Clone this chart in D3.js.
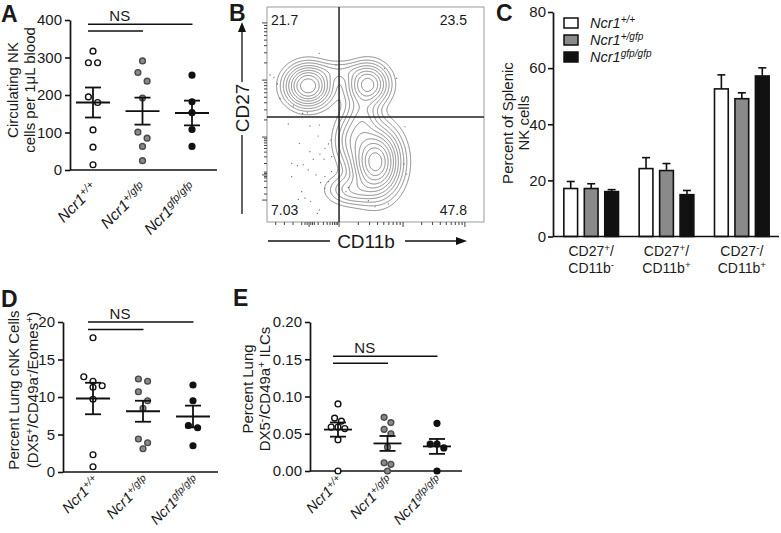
<!DOCTYPE html>
<html><head><meta charset="utf-8">
<script src="https://cdn.jsdelivr.net/npm/d3@7"></script>
<style>
body{margin:0;background:#fff;}
svg text{font-family:"Liberation Sans",Arial,Helvetica,sans-serif;fill:#1a1a1a;}
</style></head><body>
<svg id="c" width="781" height="533"></svg>
<script>
// ---------------- DATA ----------------
const genotypes = ["+/+", "+/gfp", "gfp/gfp"];
const genoFill = ["#ffffff", "#8a8a8a", "#111111"];
const genoStroke = ["#111111", "#4a4a4a", "#111111"];

// Panel A: circulating NK cells per 1 uL blood
const aValues = [
  [317, 286, 286, 195, 180, 107, 61, 14],
  [291, 260, 237, 192, 101, 85, 63, 25],
  [253, 182, 153, 108, 63]
];
const aMeans = [180, 157, 152];
const aSems = [40, 36, 33];
const aTicks = [0, 100, 200, 300, 400];
const aNS = [389, 371];

// Panel B: flow plot (channel units 0-1000)
const bQuadX = 332, bQuadY = 488;
const bQuadLabels = ["21.7", "23.5", "7.03", "47.8"];
const bPopX  = [189, 465, 500, 392, 336, 440, 385];
const bPopY  = [633, 640, 279, 150, 700, 470, 380];
const bPopSX = [54, 50, 58, 62, 75, 44, 42];
const bPopSY = [50, 50, 80, 38, 28, 80, 62];
const bPopW  = [1.0, 0.72, 1.35, 0.22, 0.10, 0.28, 0.22];
const bLevels = [0.02, 0.045, 0.08, 0.13, 0.19, 0.27, 0.36, 0.47, 0.6, 0.74, 0.88];
const bDotsX = [241,318,14,32,60,121,164,186,98,241,149,236,283,267,294,198,244,114,140,167,213,263,190,226,267,283,247,298,267,144,175,201,241,232,364,375,467,498,559,636,631,644,598,541,48,336,114,160,298,198];
const bDotsY = [785,730,684,673,575,540,505,508,456,451,366,400,363,343,381,327,316,273,262,266,292,292,242,219,211,188,183,234,157,105,111,95,56,40,141,161,99,71,84,443,270,223,668,715,642,567,211,141,304,447];
const bYMajor = [102, 219, 395, 660, 926];
const bXMajor = [194, 332, 627, 912];

// Panel C: percent of splenic NK cells
const cCats = ["CD27+/CD11b-", "CD27+/CD11b+", "CD27-/CD11b+"];
const cSigns = [["+", "-"], ["+", "+"], ["-", "+"]];
const cMeans = [[17.1, 17.1, 16.0], [24.2, 23.5, 14.9], [52.6, 49.1, 57.2]];
const cErrs = [[2.5, 1.7, 0.7], [3.9, 2.5, 1.5], [5.0, 2.1, 2.9]];
const cTicks = [0, 20, 40, 60, 80];

// Panel D: percent lung cNK cells
const dValues = [
  [17.9, 12.7, 12.1, 11.5, 11.3, 9.7, 2.3, 0.7],
  [12.4, 12.1, 10.7, 9.5, 8.5, 4.4, 3.9, 3.1],
  [11.6, 9.5, 6.2, 5.9, 3.5]
];
const dMeans = [9.8, 8.1, 7.4];
const dSems = [2.1, 1.4, 1.45];
const dTicks = [0, 5, 10, 15, 20];
const dNS = [20.0, 19.0];

// Panel E: percent lung DX5-/CD49a+ ILCs
const eValues = [
  [0.090, 0.071, 0.067, 0.059, 0.057, 0.059, 0.042, 0.0],
  [0.072, 0.065, 0.056, 0.050, 0.032, 0.011, 0.009, 0.0],
  [0.064, 0.036, 0.031, 0.036, 0.0]
];
const eMeans = [0.0556, 0.037, 0.033];
const eSems = [0.0095, 0.010, 0.010];
const eTicks = [0, 0.05, 0.10, 0.15, 0.20];
const eNS = [0.154, 0.1445];

// ---------------- HELPERS ----------------
const svg = d3.select("#c");

function richText(sel, parts, size) {
  let cur = 0;
  parts.forEach(([t, k]) => {
    const ts = sel.append("tspan").text(t);
    const target = k === "sup" ? -0.33 * size : 0;
    if (target !== cur) ts.attr("dy", target - cur);
    cur = target;
    if (k === "sup") ts.attr("font-size", size * 0.7);
  });
}

function letter(t, x, y) {
  svg.append("text").attr("x", x).attr("y", y).attr("font-size", 23)
    .attr("font-weight", "bold").text(t);
}

function rotLabel(lines, xs, cy, size) {
  lines.forEach((parts, i) => {
    const t = svg.append("text")
      .attr("transform", `translate(${xs[i]},${cy}) rotate(-90)`)
      .attr("text-anchor", "middle").attr("dy", "0.36em")
      .attr("font-size", size);
    richText(t, parts, size);
  });
}

function swarmOffsets(vals, y, d) {
  const idx = vals.map((v, i) => i).sort((a, b) => vals[b] - vals[a]);
  const off = new Array(vals.length).fill(0);
  let row = [];
  let start = null;
  const flush = () => {
    row.forEach((k, j) => { off[k] = (j - (row.length - 1) / 2) * d; });
  };
  idx.forEach(k => {
    const py = y(vals[k]);
    if (start === null || Math.abs(py - start) < d * 0.98) {
      if (start === null) start = py;
      row.push(k);
    } else {
      flush(); row = [k]; start = py;
    }
  });
  flush();
  return off;
}

function dotPanel(cfg) {
  const g = svg.append("g");
  const y = d3.scaleLinear().domain(cfg.domain).range([cfg.yBot, cfg.yTop]);
  const x = d3.scalePoint().domain(genotypes).range(cfg.xRange);
  const axis = d3.axisLeft(y).tickValues(cfg.ticks).tickSize(5).tickSizeOuter(0)
    .tickPadding(3).tickFormat(cfg.fmt);
  const ga = g.append("g").attr("transform", `translate(${cfg.axisX},0)`).call(axis);
  ga.select(".domain").attr("stroke", "#111").attr("stroke-width", 1.7);
  ga.selectAll(".tick line").attr("stroke", "#111").attr("stroke-width", 1.6);
  ga.selectAll(".tick text").attr("font-size", 15).attr("font-family", "Liberation Sans, Arial, sans-serif").attr("fill", "#1a1a1a");
  g.append("line").attr("x1", cfg.axisX).attr("x2", cfg.xEnd)
    .attr("y1", y(cfg.domain[0])).attr("y2", y(cfg.domain[0]))
    .attr("stroke", "#111").attr("stroke-width", 1.7);

  // significance bars
  const nsLines = [[genotypes[0], genotypes[2], cfg.ns[0]], [genotypes[0], genotypes[1], cfg.ns[1]]];
  nsLines.forEach(([a, b, v]) => {
    g.append("line").attr("x1", x(a) - 5).attr("x2", x(b) + 0.5)
      .attr("y1", y(v)).attr("y2", y(v)).attr("stroke", "#111").attr("stroke-width", 1.5);
  });
  g.append("text").attr("x", (x(genotypes[0]) + x(genotypes[1])) / 2 + 2)
    .attr("y", y(cfg.ns[0]) - 3).attr("text-anchor", "middle")
    .attr("font-size", 15).text("NS");

  cfg.values.forEach((vals, gi) => {
    const cx = x(genotypes[gi]);
    const off = swarmOffsets(vals, y, cfg.spacing);
    g.append("g").selectAll("circle").data(vals).join("circle")
      .attr("cx", (d, i) => cx + off[i]).attr("cy", d => y(d)).attr("r", 2.9)
      .attr("fill", genoFill[gi]).attr("stroke", genoStroke[gi]).attr("stroke-width", 1.4);
    const m = cfg.means[gi], s = cfg.sems[gi];
    g.append("line").attr("x1", cx - cfg.meanHalf).attr("x2", cx + cfg.meanHalf)
      .attr("y1", y(m)).attr("y2", y(m)).attr("stroke", "#111").attr("stroke-width", 1.8);
    g.append("line").attr("x1", cx).attr("x2", cx)
      .attr("y1", y(m - s)).attr("y2", y(m + s)).attr("stroke", "#111").attr("stroke-width", 1.8);
    [m - s, m + s].forEach(v => g.append("line").attr("x1", cx - 8).attr("x2", cx + 8)
      .attr("y1", y(v)).attr("y2", y(v)).attr("stroke", "#111").attr("stroke-width", 1.8));
    const t = g.append("text")
      .attr("transform", `translate(${cx + cfg.lab[0]},${cfg.yBot + cfg.lab[1]}) rotate(-45)`)
      .attr("text-anchor", "end").attr("font-size", cfg.labSize).attr("font-style", "italic");
    richText(t, [["Ncr1", null], [genotypes[gi], "sup"]], cfg.labSize);
  });
}

// ---------------- PANEL A ----------------
letter("A", 1, 22);
dotPanel({ axisX: 70, xEnd: 217, yBot: 170, yTop: 20, domain: [0, 400], ticks: aTicks,
  fmt: d3.format("d"), xRange: [93, 192], values: aValues, means: aMeans, sems: aSems,
  ns: aNS, spacing: 9.2, meanHalf: 17, lab: [5, 19], labSize: 15.5 });
rotLabel([[["Circulating NK", null]], [["cells per 1\u03bcL blood", null]]], [13, 30], 90, 15);

// ---------------- PANEL B ----------------
letter("B", 229, 21);
(function () {
  const bx0 = 267, bx1 = 484, by0 = 7, by1 = 222;
  const xB = d3.scaleLinear().domain([0, 1000]).range([bx0, bx1]);
  const yB = d3.scaleLinear().domain([0, 1000]).range([by1, by0]);
  const W = bx1 - bx0, H = by1 - by0;
  const grid = new Float64Array(W * H);
  for (let j = 0; j < H; j++) {
    for (let i = 0; i < W; i++) {
      const dx = xB.invert(bx0 + i + 0.5), dy = yB.invert(by0 + j + 0.5);
      let s = 0;
      for (let k = 0; k < bPopX.length; k++) {
        const u = (dx - bPopX[k]) / bPopSX[k], v = (dy - bPopY[k]) / bPopSY[k];
        s += bPopW[k] * Math.exp(-0.5 * (u * u + v * v));
      }
      grid[j * W + i] = s;
    }
  }
  const mx = d3.max(grid);
  const contours = d3.contours().size([W, H]).thresholds(bLevels.map(l => l * mx))(grid);
  svg.append("g").attr("transform", `translate(${bx0},${by0})`)
    .selectAll("path").data(contours).join("path")
    .attr("d", d3.geoPath()).attr("fill", "none").attr("stroke", "#6a6a6a").attr("stroke-width", 0.8);
  svg.append("g").selectAll("circle").data(bDotsX).join("circle")
    .attr("cx", d => xB(d)).attr("cy", (d, i) => yB(bDotsY[i])).attr("r", 0.6).attr("fill", "#555");
  svg.append("rect").attr("x", bx0).attr("y", by0).attr("width", W).attr("height", H)
    .attr("fill", "none").attr("stroke", "#9a9a9a").attr("stroke-width", 1);
  svg.append("line").attr("x1", xB(bQuadX)).attr("x2", xB(bQuadX)).attr("y1", by0).attr("y2", by1)
    .attr("stroke", "#222").attr("stroke-width", 1.5);
  svg.append("line").attr("x1", bx0).attr("x2", bx1).attr("y1", yB(bQuadY)).attr("y2", yB(bQuadY))
    .attr("stroke", "#222").attr("stroke-width", 1.5);
  // quadrant labels
  const qp = [[bx0 + 4, by0 + 18, "start"], [bx1 - 17, by0 + 18, "end"], [bx0 + 4, by1 - 7, "start"], [bx1 - 17, by1 - 7, "end"]];
  bQuadLabels.forEach((t, i) => svg.append("text").attr("x", qp[i][0]).attr("y", qp[i][1])
    .attr("text-anchor", qp[i][2]).attr("font-size", 14).attr("fill", "#333").text(t));
  // ticks (biexponential style)
  const tk = svg.append("g").attr("stroke", "#444").attr("stroke-width", 1);
  const minorsBetween = (a, b) => d3.range(2, 10).map(k => a + Math.log10(k) * (b - a));
  const yMinor = [];
  for (let i = 1; i < bYMajor.length - 1; i++) yMinor.push(...minorsBetween(bYMajor[i], bYMajor[i + 1]));
  yMinor.push(...minorsBetween(bYMajor[4], bYMajor[4] + (bYMajor[4] - bYMajor[3])).filter(v => v < 1000));
  yMinor.push(130, 160, 190, 205, 212, 226, 232);
  bYMajor.forEach(v => tk.append("line").attr("x1", bx0 - 5).attr("x2", bx0).attr("y1", yB(v)).attr("y2", yB(v)));
  yMinor.forEach(v => tk.append("line").attr("x1", bx0 - 3).attr("x2", bx0).attr("y1", yB(v)).attr("y2", yB(v)));
  const xMinor = [];
  for (let i = 1; i < bXMajor.length - 1; i++) xMinor.push(...minorsBetween(bXMajor[i], bXMajor[i + 1]));
  xMinor.push(...minorsBetween(bXMajor[0], bXMajor[1]));
  xMinor.push(40, 80, 120, 160, 175, 185, 202, 210, 218);
  bXMajor.forEach(v => tk.append("line").attr("x1", xB(v)).attr("x2", xB(v)).attr("y1", by1).attr("y2", by1 + 5));
  xMinor.forEach(v => tk.append("line").attr("x1", xB(v)).attr("x2", xB(v)).attr("y1", by1).attr("y2", by1 + 3));
  // axis titles with arrows
  const ar = svg.append("g").attr("stroke", "#111").attr("stroke-width", 1.3);
  ar.append("line").attr("x1", 242).attr("x2", 242).attr("y1", 214).attr("y2", 135);
  ar.append("line").attr("x1", 242).attr("x2", 242).attr("y1", 82).attr("y2", 30);
  svg.append("path").attr("d", "M238,32 L242,22 L246,32 Z").attr("fill", "#111");
  svg.append("text").attr("transform", "translate(242,108) rotate(-90)").attr("text-anchor", "middle")
    .attr("dy", "0.36em").attr("font-size", 19).text("CD27");
  ar.append("line").attr("x1", 268).attr("x2", 330).attr("y1", 241).attr("y2", 241);
  ar.append("line").attr("x1", 405).attr("x2", 458).attr("y1", 241).attr("y2", 241);
  svg.append("path").attr("d", "M456,237 L467,241 L456,245 Z").attr("fill", "#111");
  svg.append("text").attr("x", 366).attr("y", 241).attr("text-anchor", "middle")
    .attr("dy", "0.36em").attr("font-size", 19).text("CD11b");
})();

// ---------------- PANEL C ----------------
letter("C", 496, 21);
(function () {
  const y = d3.scaleLinear().domain([0, 80]).range([236.5, 12]);
  const x0 = d3.scaleBand().domain(cCats).range([554, 779]).paddingInner(0.253).paddingOuter(0.12);
  const x1 = d3.scaleBand().domain(genotypes).range([0, x0.bandwidth()]).paddingInner(0.25);
  const axis = d3.axisLeft(y).tickValues(cTicks).tickSize(5).tickSizeOuter(0).tickPadding(2);
  const ga = svg.append("g").attr("transform", "translate(553,0)").call(axis);
  ga.select(".domain").attr("stroke", "#111").attr("stroke-width", 1.7);
  ga.selectAll(".tick line").attr("stroke", "#111").attr("stroke-width", 1.6);
  ga.selectAll(".tick text").attr("font-size", 15).attr("font-family", "Liberation Sans, Arial, sans-serif").attr("fill", "#1a1a1a");
  cCats.forEach((c, ci) => {
    const g = svg.append("g").attr("transform", `translate(${x0(c)},0)`);
    genotypes.forEach((gt, gi) => {
      const v = cMeans[ci][gi], e = cErrs[ci][gi];
      const bx = x1(gt), bw = x1.bandwidth(), cx = bx + bw / 2;
      g.append("line").attr("x1", cx).attr("x2", cx).attr("y1", y(v)).attr("y2", y(v + e))
        .attr("stroke", "#111").attr("stroke-width", 1.6);
      g.append("line").attr("x1", cx - 4).attr("x2", cx + 4).attr("y1", y(v + e)).attr("y2", y(v + e))
        .attr("stroke", "#111").attr("stroke-width", 1.6);
      g.append("rect").attr("x", bx + 0.8).attr("y", y(v)).attr("width", bw - 1.6).attr("height", y(0) - y(v))
        .attr("fill", genoFill[gi]).attr("stroke", "#111").attr("stroke-width", 1.6);
    });
    const cx = x0(c) + x0.bandwidth() / 2;
    const t1 = svg.append("text").attr("x", cx).attr("y", 256).attr("text-anchor", "middle").attr("font-size", 14);
    richText(t1, [["CD27", null], [cSigns[ci][0], "sup"], ["/", null]], 14);
    const t2 = svg.append("text").attr("x", cx).attr("y", 273).attr("text-anchor", "middle").attr("font-size", 14);
    richText(t2, [["CD11b", null], [cSigns[ci][1], "sup"]], 14);
  });
  svg.append("line").attr("x1", 553).attr("x2", 779).attr("y1", y(0)).attr("y2", y(0))
    .attr("stroke", "#111").attr("stroke-width", 1.7);
  // legend
  genotypes.forEach((gt, gi) => {
    const ly = 23 + gi * 17;
    svg.append("rect").attr("x", 564).attr("y", ly - 5).attr("width", 14).attr("height", 10)
      .attr("fill", genoFill[gi]).attr("stroke", "#111").attr("stroke-width", 1.5);
    const t = svg.append("text").attr("x", 590).attr("y", ly + 5).attr("font-size", 14.5).attr("font-style", "italic");
    richText(t, [["Ncr1", null], [gt, "sup"]], 14.5);
  });
  rotLabel([[["Percent of Splenic", null]], [["NK cells", null]]], [508, 524], 123, 15);
})();

// ---------------- PANEL D ----------------
letter("D", 1, 307);
dotPanel({ axisX: 63, xEnd: 218, yBot: 472, yTop: 322, domain: [0, 20], ticks: dTicks,
  fmt: d3.format("d"), xRange: [93, 193], values: dValues, means: dMeans, sems: dSems,
  ns: dNS, spacing: 9.2, meanHalf: 17, lab: [7, 10], labSize: 14.5 });
rotLabel([[["Percent Lung cNK Cells", null]],
  [["(DX5", null], ["+", "sup"], ["/CD49a", null], ["-", "sup"], ["/Eomes", null], ["+", "sup"], [")", null]]],
  [14, 33], 390, 15);

// ---------------- PANEL E ----------------
letter("E", 233, 306);
dotPanel({ axisX: 310, xEnd: 462, yBot: 471, yTop: 322, domain: [0, 0.2], ticks: eTicks,
  fmt: d3.format(".2f"), xRange: [338, 437], values: eValues, means: eMeans, sems: eSems,
  ns: eNS, spacing: 6.8, meanHalf: 14, lab: [6, 11], labSize: 14.5 });
rotLabel([[["Percent Lung", null]],
  [["DX5", null], ["-", "sup"], ["/CD49a", null], ["+", "sup"], [" ILCs", null]]],
  [248, 265], 389, 15);
</script>
</body></html>
